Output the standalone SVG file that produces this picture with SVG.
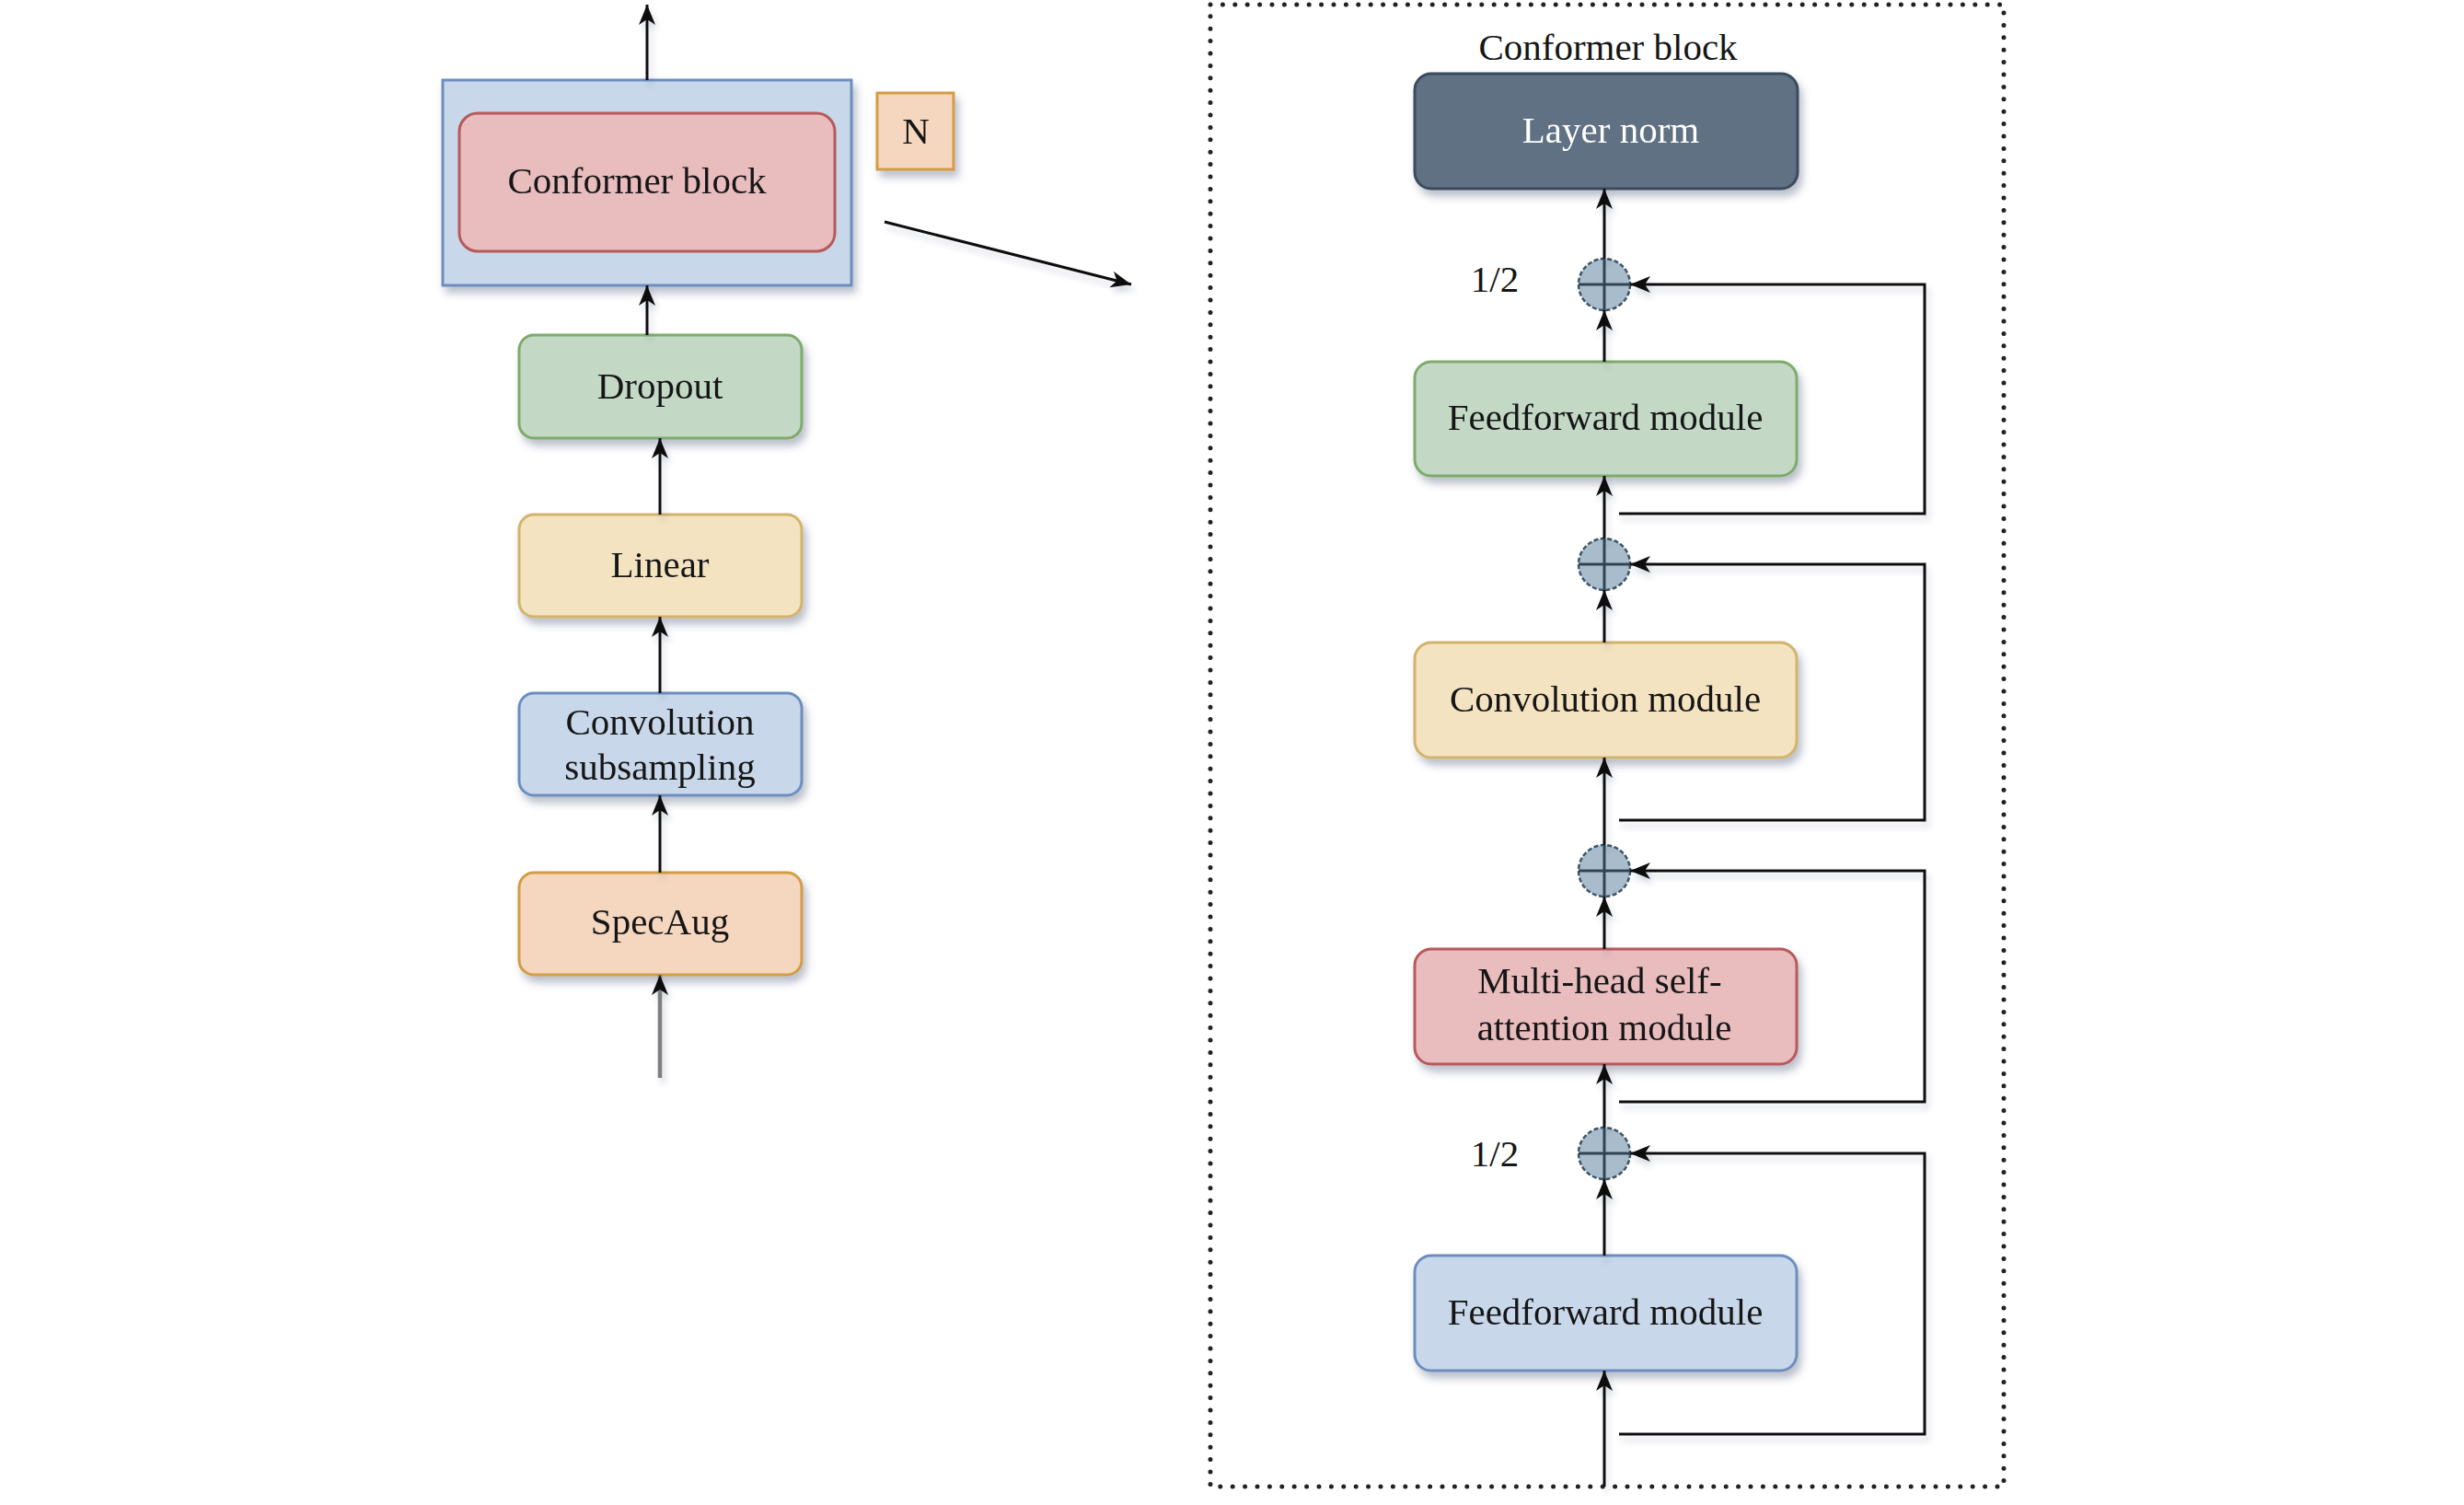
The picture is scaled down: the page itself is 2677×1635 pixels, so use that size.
<svg xmlns="http://www.w3.org/2000/svg" width="2677" height="1635" viewBox="0 0 2677 1635">
<style>
text{font-family:"Liberation Serif","Times New Roman",serif;font-size:41px;fill:#161616;text-anchor:middle}
.box{stroke-width:3}
.blue{fill:#c8d8ea;stroke:#6c8ebf}
.red{fill:#e9bcbe;stroke:#b65a5c}
.green{fill:#c3d9c5;stroke:#7eab6a}
.yellow{fill:#f3e3c0;stroke:#d2b36a}
.orange{fill:#f5d6bf;stroke:#d39c45}
.dark{fill:#5f7183;stroke:#3a4c5e}
.sum{fill:#a9bccb;stroke:#3d5566;stroke-width:2.5;stroke-dasharray:5 2.5}
.plus{stroke:#2f4556;stroke-width:3}
.edge{fill:none;stroke:#111;stroke-width:3}
.arr{marker-end:url(#ah)}
</style>
<defs>
<filter id="sh" x="-10%" y="-10%" width="130%" height="140%">
<feDropShadow dx="4" dy="7" stdDeviation="4" flood-color="#3a4a6a" flood-opacity="0.35"/>
</filter>
<filter id="lsh" x="-10%" y="-10%" width="130%" height="130%">
<feDropShadow dx="3" dy="6" stdDeviation="3" flood-color="#3a4a6a" flood-opacity="0.2"/>
</filter>
<marker id="ah" markerUnits="userSpaceOnUse" markerWidth="26" markerHeight="22" refX="22" refY="9" orient="auto">
<path d="M0,0 L22,9 L0,18 L6,9 z" fill="#111"/>
</marker>
</defs>
<rect width="2677" height="1635" fill="#fff"/>

<g id="left-nodes" filter="url(#sh)">
<g id="conformer-stack">
<rect class="box blue" x="481" y="87" width="444" height="223"/>
<rect class="box red" x="499" y="123" width="408" height="150" rx="20"/>
<text x="692" y="210">Conformer block</text>
</g>
<g id="n-label">
<rect class="box orange" x="953" y="101" width="83" height="83"/>
<text x="995" y="156">N</text>
</g>
<g id="dropout">
<rect class="box green" x="564" y="364" width="307" height="112" rx="16"/>
<text x="717" y="433">Dropout</text>
</g>
<g id="linear">
<rect class="box yellow" x="564" y="559" width="307" height="111" rx="16"/>
<text x="717" y="627">Linear</text>
</g>
<g id="conv-subsampling">
<rect class="box blue" x="564" y="753" width="307" height="111" rx="16"/>
<text x="717" y="798">Convolution</text>
<text x="717" y="847">subsampling</text>
</g>
<g id="specaug">
<rect class="box orange" x="564" y="948" width="307" height="111" rx="16"/>
<text x="717" y="1015">SpecAug</text>
</g>
</g>

<g id="conformer-block-detail">
<rect x="1315" y="5" width="862" height="1610" fill="none" stroke="#222" stroke-width="5" stroke-linecap="round" stroke-dasharray="0 13.4"/>
<text x="1747" y="65">Conformer block</text>
</g>

<g id="right-nodes" filter="url(#sh)">
<g id="layer-norm">
<rect class="box dark" x="1537" y="80" width="416" height="125" rx="18"/>
<text x="1750" y="155" style="fill:#fff">Layer norm</text>
</g>
<g id="ff-top">
<rect class="box green" x="1537" y="393" width="415" height="124" rx="18"/>
<text x="1744" y="467">Feedforward module</text>
</g>
<g id="conv-module">
<rect class="box yellow" x="1537" y="698" width="415" height="125" rx="18"/>
<text x="1744" y="773">Convolution module</text>
</g>
<g id="mhsa">
<rect class="box red" x="1537" y="1031" width="415" height="125" rx="18"/>
<text x="1738" y="1079">Multi-head self-</text>
<text x="1743" y="1130">attention module</text>
</g>
<g id="ff-bottom">
<rect class="box blue" x="1537" y="1364" width="415" height="125" rx="18"/>
<text x="1744" y="1439">Feedforward module</text>
</g>
</g>

<g id="sum-nodes">
<g id="sum1"><circle class="sum" cx="1743" cy="309" r="28"/><path class="plus" d="M1715,309 H1771 M1743,281 V337"/></g>
<g id="sum2"><circle class="sum" cx="1743" cy="613" r="28"/><path class="plus" d="M1715,613 H1771 M1743,585 V641"/></g>
<g id="sum3"><circle class="sum" cx="1743" cy="946" r="28"/><path class="plus" d="M1715,946 H1771 M1743,918 V974"/></g>
<g id="sum4"><circle class="sum" cx="1743" cy="1253" r="28"/><path class="plus" d="M1715,1253 H1771 M1743,1225 V1281"/></g>
</g>
<g id="labels">
<text x="1624" y="317">1/2</text>
<text x="1624" y="1267">1/2</text>
</g>

<g id="connectors" filter="url(#lsh)">
<path class="edge arr" d="M703,87 V5"/>
<path class="edge arr" d="M703,364 V310"/>
<path class="edge arr" d="M717,559 V476"/>
<path class="edge arr" d="M717,753 V670"/>
<path class="edge arr" d="M717,948 V864"/>
<path class="arr" d="M717,1171 V1059" fill="none" stroke="#7f7f7f" stroke-width="4.5"/>
<path class="edge arr" d="M961,241 L1229,309"/>

<path class="edge arr" d="M1743,1615 V1489"/>
<path class="edge arr" d="M1743,1364 V1281"/>
<path class="edge arr" d="M1743,1225 V1156"/>
<path class="edge arr" d="M1743,1031 V974"/>
<path class="edge arr" d="M1743,918 V823"/>
<path class="edge arr" d="M1743,698 V641"/>
<path class="edge arr" d="M1743,585 V517"/>
<path class="edge arr" d="M1743,393 V337"/>
<path class="edge arr" d="M1743,281 V205"/>

<path class="edge arr" d="M1759,1558 H2091 V1253 H1771"/>
<path class="edge arr" d="M1759,1197 H2091 V946 H1771"/>
<path class="edge arr" d="M1759,891 H2091 V613 H1771"/>
<path class="edge arr" d="M1759,558 H2091 V309 H1771"/>
</g>
</svg>
